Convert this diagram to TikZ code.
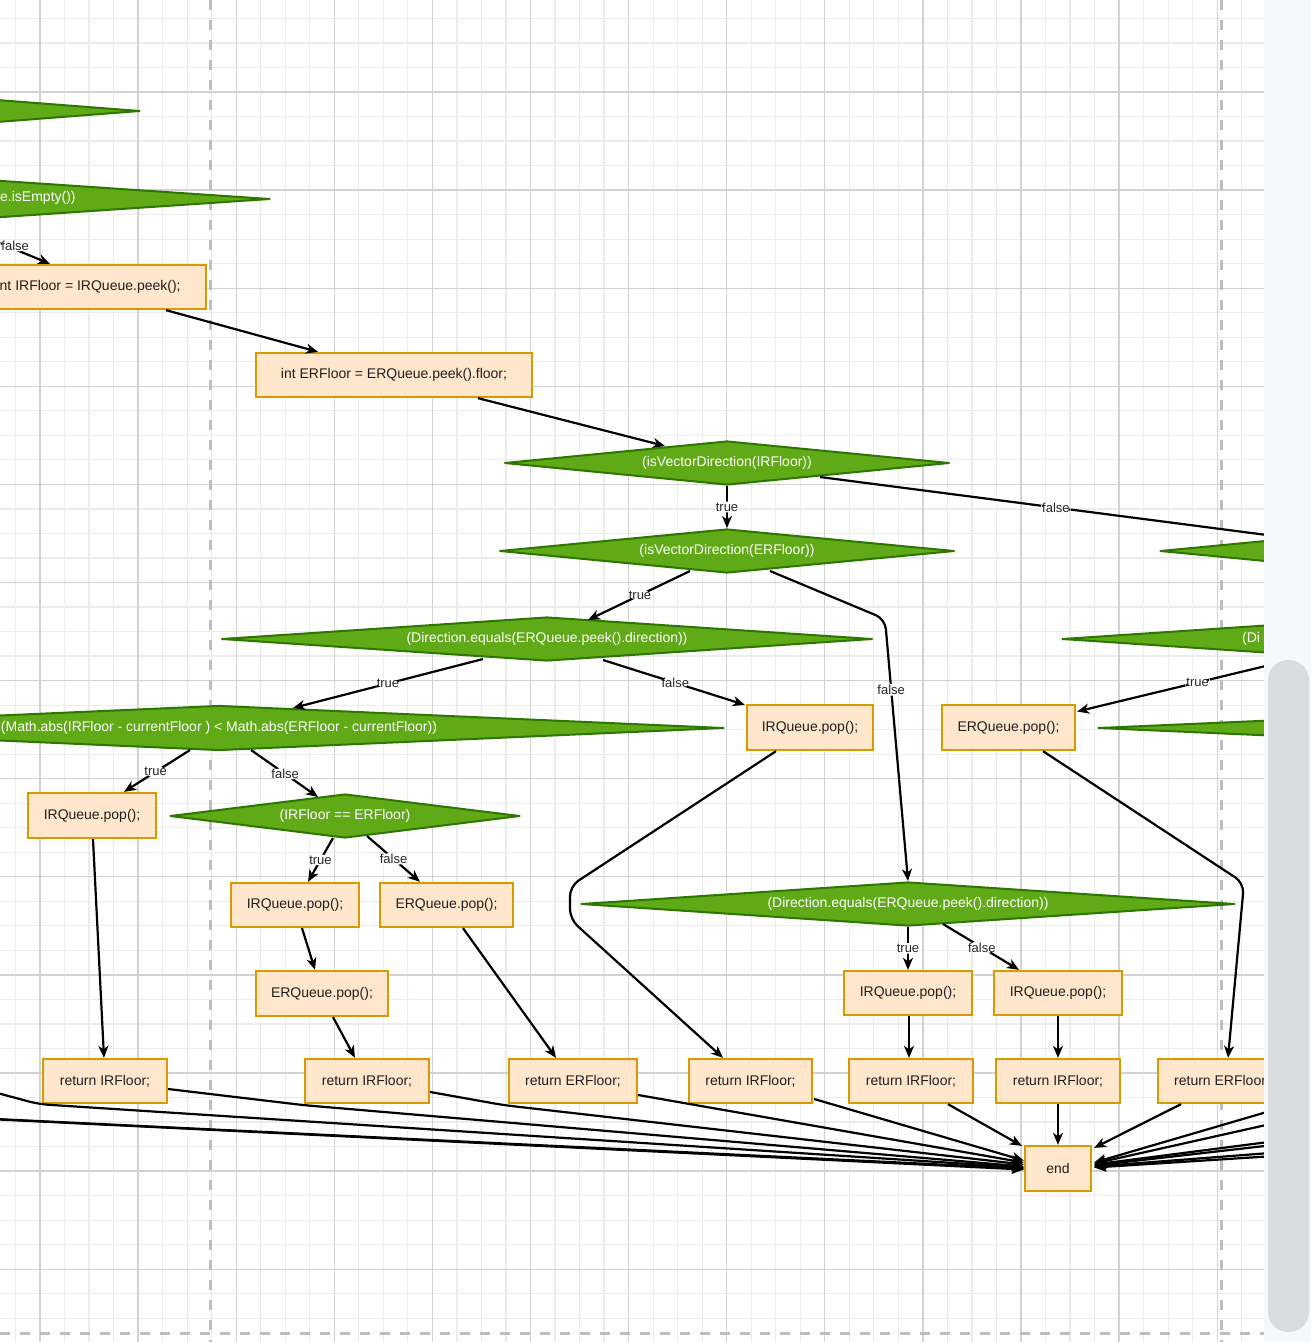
\documentclass[tikz,border=0pt]{standalone}
\usepackage{fontspec}
\setmainfont{Liberation Sans}
\usetikzlibrary{shapes.geometric,arrows.meta,calc}
\definecolor{boxfill}{HTML}{FFE6CC}
\definecolor{boxdraw}{HTML}{D79B00}
\definecolor{dfill}{HTML}{60A917}
\definecolor{ddraw}{HTML}{2D7600}
\definecolor{gridmin}{HTML}{ECECEC}
\definecolor{gridmaj}{HTML}{D2D2D2}
\definecolor{pagebrk}{HTML}{BDBDBD}
\definecolor{panel}{HTML}{F7F8F9}
\definecolor{scroll}{HTML}{DADCE0}
\begin{document}
\begin{tikzpicture}[x=1pt,y=-1pt,
  box/.style={draw=boxdraw, fill=boxfill, line width=2.3pt, inner sep=0pt, font=\fontsize{14}{16}\selectfont, text=black!88},
  dec/.style={diamond, draw=ddraw, fill=dfill, line width=2pt, line join=round, inner sep=0pt, font=\fontsize{14}{16}\selectfont, text=white},
  txt/.style={inner sep=0pt, font=\fontsize{14}{16}\selectfont, text=black!88},
  conn/.style={line width=2.2pt, draw=black, -{Stealth[length=12pt,width=10pt,inset=3.5pt]}, rounded corners=10pt},
  lab/.style={fill=white, inner sep=1pt, font=\fontsize{13}{15}\selectfont, text=black!85},
  majline/.style={draw=gridmaj, line width=1.3pt},
  minline/.style={draw=gridmin, line width=1.2pt},
  brk/.style={draw=pagebrk, line width=3pt, dash pattern=on 10pt off 10pt},
]
\useasboundingbox (0,0) rectangle (1311,1342);
\fill[white] (0,0) rectangle (1311,1342);

\begin{scope}
\clip (0,0) rectangle (1264,1342);
% grid
\foreach \i in {-2,...,50} { \draw[minline] ({40+24.525*\i},0) -- ({40+24.525*\i},1342); }
\foreach \i in {-4,...,51} { \draw[minline] (0,{92+24.525*\i}) -- (1264,{92+24.525*\i}); }
\foreach \i in {0,...,12} { \draw[majline] ({40+98.1*\i},0) -- ({40+98.1*\i},1342); }
\foreach \i in {-1,...,12} { \draw[majline] (0,{92+98.1*\i}) -- (1264,{92+98.1*\i}); }
\draw[brk] (210,0) -- (210,1342);
\draw[brk] (1221,0) -- (1221,1342);
\draw[brk] (0,1333) -- (1264,1333);

% nodes
\node[dec, minimum width=560pt, minimum height=44pt, aspect=12.7] (P1) at (-140,111) {};
\node[dec, minimum width=642pt, minimum height=44pt, aspect=14.6] (P2) at (-51,199) {};
\node[txt, anchor=west, text=white] (P2t) at (0,198) {e.isEmpty())};
\node[box, minimum width=236pt, minimum height=44pt] (IRF) at (88,287) {};
\node[txt, anchor=west] (IRFt) at (-0.5,287) {nt IRFloor = IRQueue.peek();};
\node[box, minimum width=276pt, minimum height=44pt] (ERF) at (394,375) {int ERFloor = ERQueue.peek().floor;};
\node[dec, minimum width=445pt, minimum height=44pt, aspect=10] (D3) at (727,463) {(isVectorDirection(IRFloor))};
\node[dec, minimum width=455pt, minimum height=44pt, aspect=10] (D4) at (727,551) {(isVectorDirection(ERFloor))};
\node[dec, minimum width=454pt, minimum height=44pt, aspect=10] (Q1) at (1387,551) {};
\node[dec, minimum width=651pt, minimum height=44pt, aspect=14.8] (D5) at (547,639) {(Direction.equals(ERQueue.peek().direction))};
\node[dec, minimum width=650pt, minimum height=44pt, aspect=14.8] (Q2) at (1387,639) {};
\node[txt, anchor=west, text=white] (Q2t) at (1242,639) {(Di};
\node[dec, minimum width=1010pt, minimum height=45pt, aspect=22.4] (D6) at (219,728) {(Math.abs(IRFloor - currentFloor ) < Math.abs(ERFloor - currentFloor))};
\node[dec, minimum width=1010pt, minimum height=45pt, aspect=22.4] (Q3) at (1603,728) {};
\node[box, minimum width=126pt, minimum height=45pt] (E) at (810,727.5) {IRQueue.pop();};
\node[box, minimum width=133pt, minimum height=45pt] (F) at (1008.5,727.5) {ERQueue.pop();};
\node[box, minimum width=128pt, minimum height=45pt] (A) at (92,815.5) {IRQueue.pop();};
\node[dec, minimum width=350pt, minimum height=44pt, aspect=8] (D8) at (345,816) {(IRFloor == ERFloor)};
\node[box, minimum width=128pt, minimum height=44pt] (B) at (295,905) {IRQueue.pop();};
\node[box, minimum width=133pt, minimum height=44pt] (C) at (446.5,905) {ERQueue.pop();};
\node[dec, minimum width=654pt, minimum height=44pt, aspect=14.8] (D7) at (908,904) {(Direction.equals(ERQueue.peek().direction))};
\node[box, minimum width=132pt, minimum height=45pt] (D) at (322,993.5) {ERQueue.pop();};
\node[box, minimum width=128pt, minimum height=44pt] (G) at (908,993) {IRQueue.pop();};
\node[box, minimum width=128pt, minimum height=44pt] (H) at (1058,993) {IRQueue.pop();};
\node[box, minimum width=124pt, minimum height=44pt] (R1) at (105,1081) {return IRFloor;};
\node[box, minimum width=124pt, minimum height=44pt] (R2) at (367,1081) {return IRFloor;};
\node[box, minimum width=128pt, minimum height=44pt] (R3) at (573,1081) {return ERFloor;};
\node[box, minimum width=123pt, minimum height=44pt] (R4) at (750.5,1081) {return IRFloor;};
\node[box, minimum width=124pt, minimum height=44pt] (R5) at (911,1081) {return IRFloor;};
\node[box, minimum width=124pt, minimum height=44pt] (R6) at (1058,1081) {return IRFloor;};
\node[box, minimum width=128pt, minimum height=44pt] (R8) at (1222,1081) {return ERFloor;};
\node[box, minimum width=66pt, minimum height=45pt] (end) at (1058,1168.5) {end};

% free ends off the canvas
\coordinate (offL1) at (-40,1083);
\coordinate (offL2) at (-150,1112);
\coordinate (offL3) at (-400,1100);
\coordinate (offR1) at (1400,1073);
\coordinate (offR2) at (1400,1095);
\coordinate (offR3) at (1400,1125);
\coordinate (offR4) at (1400,1130.5);
\coordinate (offR5) at (1400,1143);
\coordinate (offR6) at (1400,1148);

% connectors
\draw[conn] (P2.south) -- node[lab,pos=0.655,above=-3pt]{false} ($(IRF.north)+(-38,0)$);
\draw[conn] ($(IRF.south)+(78,0)$) -- ($(ERF.north)+(-76,0)$);
\draw[conn] ($(ERF.south)+(84,0)$) -- ($(D3.center)+(-62,-17)$);
\draw[conn] (D3.south) -- node[lab]{true} (D4.north);
\draw[conn] ($(D3.center)+(93,14)$) -- node[lab,pos=0.502]{false} ($(Q1.center)+(-97,-13)$);
\draw[conn] ($(D4.center)+(-37,20)$) -- node[lab,pos=0.49]{true} ($(D5.center)+(41,-19)$);
\draw[conn] ($(D4.center)+(43,20)$) -- ($(D4.center)+(158,68)$) -- node[lab,pos=0.27]{false} (D7.north);
\draw[conn] ($(D5.center)+(-64,20)$) -- node[lab,pos=0.5]{true} ($(D6.center)+(74,-20)$);
\draw[conn] ($(D5.center)+(56,21)$) -- node[lab,pos=0.51]{false} ($(E.north west)+(-1,1)$);
\draw[conn] ($(D6.center)+(-29,22)$) -- node[lab,pos=0.52]{true} ($(A.north)+(32,0)$);
\draw[conn] ($(D6.center)+(32,22)$) -- node[lab,pos=0.51]{false} ($(D8.center)+(-27,-19)$);
\draw[conn] ($(D8.center)+(-12,22)$) -- node[lab,pos=0.5]{true} ($(B.north)+(13,0)$);
\draw[conn] ($(D8.center)+(22,20)$) -- node[lab,pos=0.5]{false} ($(C.north)+(-26.5,0)$);
\draw[conn] ($(B.south)+(7,0)$) -- ($(D.north)+(-7,0)$);
\draw[conn] ($(D.south)+(11,0)$) -- ($(R2.north)+(-12,0)$);
\draw[conn] ($(C.south)+(16.5,0)$) -- ($(R3.north)+(-17,0)$);
\draw[conn] ($(A.south)+(1,0)$) -- ($(R1.north)+(-1,0)$);
\draw[conn] ($(E.south)+(-34,0)$) -- ($(E.south)+(-240,135)$) -- ($(E.south)+(-240,168)$) -- ($(R4.north)+(-27.5,0)$);
\draw[conn] ($(F.south)+(34.5,0)$) -- ($(F.south)+(235.5,132)$) -- ($(R8.north)+(6,0)$);
\draw[conn] ($(Q2.center)+(-80,17)$) -- node[lab,pos=0.476]{true} ($(F.east)+(1,-16)$);
\draw[conn] (D7.south) -- node[lab]{true} (G.north);
\draw[conn] ($(D7.center)+(35,20)$) -- node[lab,pos=0.51]{false} ($(H.north)+(-39,0)$);
\draw[conn] ($(G.south)+(1,0)$) -- ($(R5.north)+(-2,0)$);
\draw[conn] (H.south) -- (R6.north);
\draw[conn] (R6.south) -- (end.north);
\draw[conn] ($(R5.south)+(37,0)$) -- ($(end.north west)+(-2,1)$);
\draw[conn] ($(R8.south)+(-41,0)$) -- ($(end.north east)+(2,3)$);
\draw[conn] ($(R4.east)+(1,18)$) -- ($(end.west)+(0,-8)$);
\draw[conn] ($(R3.east)+(0,14)$) -- ($(end.west)+(0,-6)$);
\draw[conn] ($(R2.east)+(0,11)$) -- ($(R3.south west)+(-4,1)$) -- ($(end.west)+(0,-4)$);
\draw[conn] ($(R1.east)+(0,8)$) -- ($(R2.south west)+(0,1)$) -- ($(end.west)+(0,-2)$);
\draw[conn] (offL1) -- ($(R1.south west)+(-3,0)$) -- ($(end.west)+(0,-1)$);
\draw[conn] (offL2) -- (end.west);
\draw[conn] (offL3) -- ($(end.west)+(0,1)$);
\foreach \c/\s in {offR1/-6,offR2/-5,offR3/-4,offR4/-3,offR5/-2,offR6/-1} {
  \draw[conn] (\c) -- ($(end.east)+(2,\s)$);
}
\end{scope}

% side panel
\fill[panel] (1264,0) rectangle (1311,1342);
\fill[scroll, rounded corners=20pt] (1268,660) rectangle (1309,1332);
\end{tikzpicture}
\end{document}
